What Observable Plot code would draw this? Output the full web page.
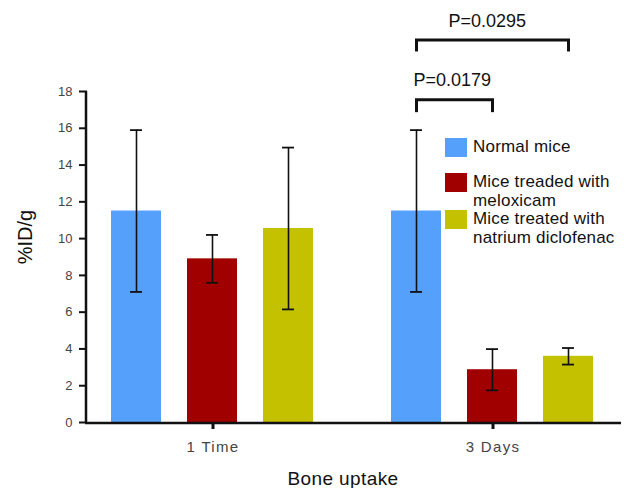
<!DOCTYPE html>
<html>
<head>
<meta charset="utf-8">
<script src="https://cdn.jsdelivr.net/npm/d3@7"></script>
<script src="https://cdn.jsdelivr.net/npm/@observablehq/plot@0.6"></script>
<style>
  html, body { margin: 0; padding: 0; background: #fff; }
  #wrap { position: relative; width: 637px; height: 488px; font-family: "Liberation Sans", Arial, sans-serif; }
  #legend { position: absolute; left: 445px; top: 138px; }
  .item { display: flex; align-items: flex-start; }
  .sw { width: 22px; height: 19px; margin-right: 6px; flex: none; }
  .lab { font-size: 17px; line-height: 19px; color: #111; margin-top: -1px; letter-spacing: 0.2px; }
</style>
</head>
<body>
<div id="wrap"></div>
<script>
// ---- data ----
const groups = ["1 Time", "3 Days"];
const series = ["Normal mice", "Mice treaded with meloxicam", "Mice treated with natrium diclofenac"];
const legendLines = [["Normal mice"], ["Mice treaded with", "meloxicam"], ["Mice treated with", "natrium diclofenac"]];
const colors = ["#55a0fb", "#a10000", "#c3c100"];
const meansTime1 = [11.5, 8.9, 10.55];
const errTime1 = [4.4, 1.3, 4.4];
const meansDays3 = [11.5, 2.87, 3.6];
const errDays3 = [4.4, 1.12, 0.45];
const yTicks = [0, 2, 4, 6, 8, 10, 12, 14, 16, 18];
const brackets = [
  {from: "Normal mice", to: "Mice treaded with meloxicam", y: 17.55, drop: 0.7, label: "P=0.0179", labelY: 18.6},
  {from: "Normal mice", to: "Mice treated with natrium diclofenac", y: 20.8, drop: 0.65, label: "P=0.0295", labelY: 21.8}
];

const means = [meansTime1, meansDays3];
const errs = [errTime1, errDays3];
const data = groups.flatMap((g, gi) => series.map((s, si) => ({
  group: g, series: s, mean: means[gi][si], err: errs[gi][si]
})));
const bracketGroup = "3 Days";
const bracketEnds = brackets.flatMap(b => [
  {x: b.from, y1: b.y - b.drop, y2: b.y},
  {x: b.to, y1: b.y - b.drop, y2: b.y}
]);

const W = 637, H = 488, mL = 87, mR = 19, mT = 91, mB = 66;
const font = "'Liberation Sans', Arial, sans-serif";

const plot = Plot.plot({
  width: W, height: H,
  marginTop: mT, marginBottom: mB, marginLeft: mL, marginRight: mR,
  style: {fontFamily: font, background: "transparent", overflow: "visible"},
  fx: {domain: groups, paddingInner: 0.104, paddingOuter: 0, label: null},
  x: {domain: series, paddingInner: 0.34, paddingOuter: 0.32, axis: null},
  y: {domain: [0, 18], axis: null},
  color: {domain: series, range: colors},
  marks: [
    Plot.barY(data, {fx: "group", x: "series", y: "mean", fill: "series"}),
    Plot.ruleX(data, {fx: "group", x: "series", y1: d => d.mean - d.err, y2: d => d.mean + d.err, stroke: "#111", strokeWidth: 1.6}),
    Plot.tickY(data, {fx: "group", x: "series", y: d => d.mean + d.err, stroke: "#111", strokeWidth: 1.8, insetLeft: 19, insetRight: 19}),
    Plot.tickY(data, {fx: "group", x: "series", y: d => d.mean - d.err, stroke: "#111", strokeWidth: 1.8, insetLeft: 19, insetRight: 19}),
    // significance brackets
    Plot.link(brackets, {fx: () => bracketGroup, x1: "from", x2: "to", y1: "y", y2: "y", stroke: "#111", strokeWidth: 3, strokeLinecap: "square"}),
    Plot.ruleX(bracketEnds, {fx: () => bracketGroup, x: "x", y1: "y1", y2: "y2", stroke: "#111", strokeWidth: 3}),
    Plot.text(brackets.slice(0, 1), {fx: () => bracketGroup, x: "from", y: "labelY", text: "label", fontSize: 18, fill: "#111", textAnchor: "start", dx: -3}),
    Plot.text(brackets.slice(1), {fx: () => bracketGroup, x: "from", y: "labelY", text: "label", fontSize: 18, fill: "#111", textAnchor: "start", dx: 32}),
    Plot.axisY({ticks: yTicks, tickSize: 8, tickPadding: 7, strokeWidth: 2, stroke: "#111", fontSize: 13, fill: "#444", label: null, tickFormat: d => d}),
    Plot.axisFx({anchor: "bottom", tickSize: 7, tickPadding: 12, strokeWidth: 3, stroke: "#111", fontSize: 14, fill: "#444", label: null})
  ]
});

const wrap = document.getElementById("wrap");
wrap.appendChild(plot);

const svg = d3.select(plot);
// enlarge facet tick labels
svg.selectAll('g[aria-label="fx-axis tick label"] text')
  .style("font-size", "15px").style("letter-spacing", "1.3px");

// axis lines and titles
const yScale = plot.scale("y");
const y0 = yScale.apply(0), yTop = yScale.apply(18);
svg.append("line").attr("x1", mL - 1).attr("x2", mL - 1).attr("y1", yTop).attr("y2", y0 + 1)
  .attr("stroke", "#111").attr("stroke-width", 2.5);
svg.append("line").attr("x1", mL - 2).attr("x2", W - 16).attr("y1", y0 + 1).attr("y2", y0 + 1)
  .attr("stroke", "#111").attr("stroke-width", 2.5);
svg.append("text").attr("transform", `translate(32,237) rotate(-90)`)
  .attr("text-anchor", "middle").attr("font-size", 20).attr("fill", "#111").attr("font-family", font).text("%ID/g");
svg.append("text").attr("x", 343).attr("y", 485)
  .attr("text-anchor", "middle").attr("font-size", 19).attr("fill", "#111").attr("font-family", font)
  .style("letter-spacing", "0.4px").text("Bone uptake");

// legend
const legend = document.createElement("div");
legend.id = "legend";
series.forEach((s, i) => {
  const item = document.createElement("div");
  item.className = "item";
  item.style.marginBottom = i === 0 ? "16px" : "0px";
  const sw = document.createElement("div");
  sw.className = "sw";
  sw.style.background = colors[i];
  const lab = document.createElement("div");
  lab.className = "lab";
  lab.innerHTML = legendLines[i].join("<br>");
  item.appendChild(sw); item.appendChild(lab);
  legend.appendChild(item);
});
wrap.appendChild(legend);
</script>
</body>
</html>
